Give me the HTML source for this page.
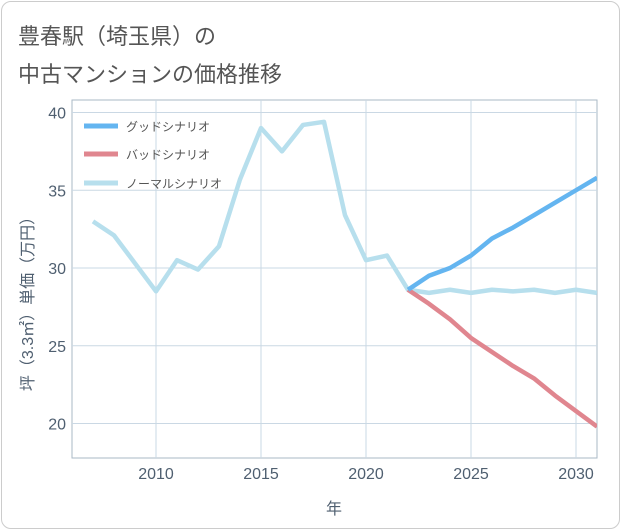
<!DOCTYPE html>
<html><head><meta charset="utf-8"><style>
body{margin:0;background:#fff;}
#wrap{position:relative;width:621px;height:530px;font-family:"Liberation Sans","Noto Sans CJK JP",sans-serif;}
#card{position:absolute;left:1px;top:1px;width:617px;height:526px;border:1px solid #ccc;border-radius:10px;background:#fff;}
.title{position:absolute;left:18px;font-size:22px;color:#555;}
</style></head><body>
<div id="wrap">
<div id="card"></div>
<div class="title" style="top:19px">豊春駅（埼玉県）の</div>
<div class="title" style="top:57px">中古マンションの価格推移</div>
<svg id="chart" width="621" height="530" style="position:absolute;left:0;top:0"></svg>
</div>
<script>
const yearsHist=[2007,2008,2009,2010,2011,2012,2013,2014,2015,2016,2017,2018,2019,2020,2021,2022,2023,2024,2025,2026,2027,2028,2029,2030,2031];
const normalVals=[33.0,32.1,30.3,28.5,30.5,29.9,31.4,35.7,39.0,37.5,39.2,39.4,33.4,30.5,30.8,28.6,28.4,28.6,28.4,28.6,28.5,28.6,28.4,28.6,28.4];
const yearsProj=[2022,2023,2024,2025,2026,2027,2028,2029,2030,2031];
const goodVals=[28.6,29.5,30.0,30.8,31.9,32.6,33.4,34.2,35.0,35.8];
const badVals=[28.6,27.7,26.7,25.5,24.6,23.7,22.9,21.8,20.8,19.8];
const xTicks=[2010,2015,2020,2025,2030];
const yTicks=[20,25,30,35,40];
const L=72,R=597,T=100,B=458;
const x=v=>156+(v-2010)*21;
const y=v=>268-(v-30)*15.55;
const svg=document.getElementById('chart');
const NS='http://www.w3.org/2000/svg';
function mk(t,a){const e=document.createElementNS(NS,t);for(const k in a)e.setAttribute(k,a[k]);svg.appendChild(e);return e;}
let e=mk('rect',{x:L,y:T,width:R-L,height:B-T,fill:'#fff',stroke:'#aab8c6'});


xTicks.forEach(t=>{
 let g=mk('line',{x1:x(t),x2:x(t),y1:T,y2:B,stroke:'#cad8e4'});
 
 
 let s=mk('text',{x:x(t),y:479,'text-anchor':'middle','font-size':16,fill:'#4f5f70'});s.textContent=t;
 
 
});
yTicks.forEach(t=>{
 let g=mk('line',{x1:L,x2:R,y1:y(t),y2:y(t),stroke:'#cad8e4'});
 
 
 let s=mk('text',{x:66,y:y(t)+6,'text-anchor':'end','font-size':16,fill:'#4f5f70'});s.textContent=t;
 
 
});
let xt=mk('text',{x:334,y:514,'text-anchor':'middle','font-size':16,fill:'#4f5f70'});xt.textContent='年';


let yt=mk('text',{x:0,y:0,'text-anchor':'middle','font-size':16,fill:'#4f5f70',transform:'translate(33,300) rotate(-90)'});yt.textContent='坪（3.3㎡）単価（万円）';


const clip=mk('clipPath',{id:'c'});
const cr=document.createElementNS(NS,'rect');cr.setAttribute('x',L);cr.setAttribute('y',T);cr.setAttribute('width',R-L);cr.setAttribute('height',B-T);clip.appendChild(cr);
function line(xs,vs,c,name){
 let p=mk('polyline',{points:xs.map((v,i)=>x(v)+','+y(vs[i])).join(' '),fill:'none',stroke:c,'stroke-width':4.5,'stroke-linejoin':'round','clip-path':'url(#c)'});
 
 
}
line(yearsHist,normalVals,'#b7dfed','normal-scenario-line');
line(yearsProj,badVals,'#e0868f','bad-scenario-line');
line(yearsProj,goodVals,'#64b5f0','good-scenario-line');
const leg=[['グッドシナリオ','#64b5f0',126],['バッドシナリオ','#e0868f',154],['ノーマルシナリオ','#b7dfed',183]];
leg.forEach(l=>{
 let s=mk('line',{x1:84,x2:118,y1:l[2],y2:l[2],stroke:l[1],'stroke-width':5});
 
 
 let t=mk('text',{x:126,y:l[2]+5,'font-size':12,fill:'#555'});t.textContent=l[0];
 
 
});
</script>
</body></html>
